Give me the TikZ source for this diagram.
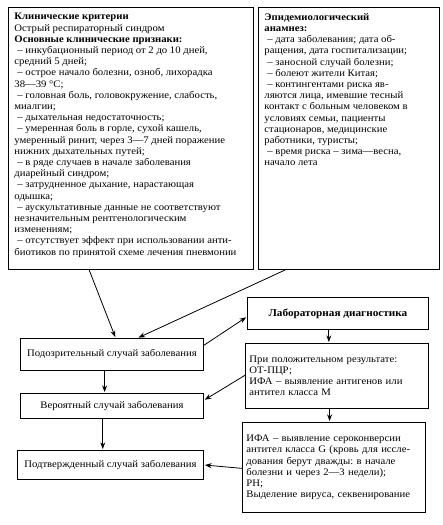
\documentclass[tikz,border=0pt]{standalone}
\usepackage{fontspec}
\setmainfont{Liberation Serif}[FakeStretch=1.07]
\usetikzlibrary{arrows.meta,calc}
\frenchspacing
\newcommand{\itm}{\hspace*{3pt}–\ }
\newcommand{\topbox}[3]{\parbox[t][#2][t]{#1}{\raggedright #3}}

\begin{document}
\begin{tikzpicture}[x=1pt,y=-1pt,>=Stealth,
  every node/.style={font=\fontsize{10}{11.2}\selectfont},
  box/.style={draw,line width=0.9pt,anchor=north west,inner sep=6pt},
  arr/.style={->,line width=0.8pt,shorten >=1pt}]
\useasboundingbox (0,0) rectangle (443,525);
% criteria
\node[box] (clin) at (8,7) {\topbox{233pt}{250pt}{\textbf{Клинические критерии}\\
Острый респираторный синдром\\
\textbf{Основные клинические признаки:}\\
\itm инкубационный период от 2 до 10 дней,\\
средний 5 дней;\\
\itm острое начало болезни, озноб, лихорадка\\
38—39 °С;\\
\itm головная боль, головокружение, слабость,\\
миалгии;\\
\itm дыхательная недостаточность;\\
\itm умеренная боль в горле, сухой кашель,\\
умеренный ринит, через 3—7 дней поражение\\
нижних дыхательных путей;\\
\itm в ряде случаев в начале заболевания\\
диарейный синдром;\\
\itm затрудненное дыхание, нарастающая\\
одышка;\\
\itm аускультативные данные не соответствуют\\
незначительным рентгенологическим\\
изменениям;\\
\itm отсутствует эффект при использовании анти-\\
биотиков по принятой схеме лечения пневмонии}};
\node[box] (epid) at (258,7) {\topbox{169pt}{250pt}{\textbf{Эпидемиологический}\\
\textbf{анамнез:}\\
\itm дата заболевания; дата об-\\
ращения, дата госпитализации;\\
\itm заносной случай болезни;\\
\itm болеют жители Китая;\\
\itm контингентами риска яв-\\
ляются лица, имевшие тесный\\
контакт с больным человеком в\\
условиях семьи, пациенты\\
стационаров, медицинские\\
работники, туристы;\\
\itm время риска – зима—весна,\\
начало лета}};
% cases
\node[box,minimum width=183,minimum height=32] (susp) at (20,338) {Подозрительный случай заболевания};
\node[box,minimum width=183,minimum height=25] (prob) at (20,393) {Вероятный случай заболевания};
\node[box,minimum width=186,minimum height=29] (conf) at (17,450) {Подтвержденный случай заболевания};
% laboratory
\node[box,minimum width=181,minimum height=32,font=\fontsize{10.5}{12}\selectfont\bfseries] (lab) at (247,297) {Лабораторная диагностика};
\node[box,minimum width=183,minimum height=65,text width=175,inner xsep=4pt,align=left] (pos) at (245,343) {При положительном результате:\\ ОТ-ПЦР;\\ ИФА – выявление антигенов или\\ антител класса М};
\node[box,minimum width=183,minimum height=90,text width=175,inner xsep=4pt,align=left] (fin) at (242,422) {ИФА – выявление сероконверсии\\ антител класса G (кровь для иссле-\\ дования берут дважды: в начале\\ болезни и через 2—3 недели);\\ РН;\\ Выделение вируса, секвенирование};
% connectors
\draw[arr] ($(clin.south west)!0.33!(clin.south east)$) -- ($(susp.north west)!0.52!(susp.north east)$);
\draw[arr] ($(epid.south west)!0.15!(epid.south east)$) -- ($(susp.north west)!0.64!(susp.north east)$);
\draw[arr] ($(susp.north east)!0.22!(susp.south east)$) -- ($(lab.north west)!0.6!(lab.south west)$);
\draw[arr] ($(lab.south west)!0.45!(lab.south east)$) coordinate (a) -- (a |- pos.north);
\draw[arr] ($(susp.south west)!0.46!(susp.south east)$) coordinate (b) -- (b |- prob.north);
\draw[arr] ($(pos.north west)!0.49!(pos.south west)$) -- ($(prob.north east)!0.28!(prob.south east)$);
\draw[arr] ($(pos.south west)!0.46!(pos.south east)$) coordinate (c) -- (c |- fin.north);
\draw[arr] ($(prob.south west)!0.45!(prob.south east)$) coordinate (d) -- (d |- conf.north);
\draw[arr] ($(fin.north west)!0.51!(fin.south west)$) -- ($(conf.north east)!0.5!(conf.south east)$);
\end{tikzpicture}
\end{document}
